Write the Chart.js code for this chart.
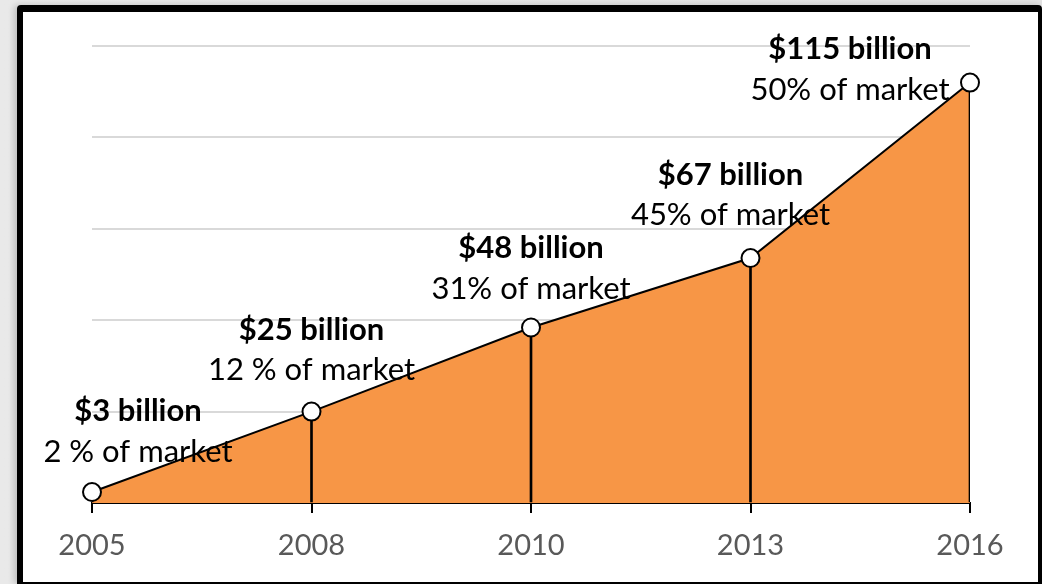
<!DOCTYPE html>
<html>
<head>
<meta charset="utf-8">
<script src="https://cdn.jsdelivr.net/npm/chart.js@4"></script>
<style>
  html, body { margin: 0; padding: 0; }
  body { width: 1042px; height: 584px; position: relative; overflow: hidden;
         background: linear-gradient(90deg, #e9e9e9 0%, #e2e2e2 100%); }
  #panel { position: absolute; left: 17px; top: 5px; width: 1025px; height: 579px;
           box-sizing: border-box; background: #fff;
           border-style: solid; border-color: #000; border-width: 7px 4px 2px 6px;
           border-radius: 4px 4px 0 0;
           box-shadow: -3px 0 6px rgba(0,0,0,0.18); }
  #chart { position: absolute; left: 0; top: 0; }
</style>
</head>
<body>
<div id="panel"></div>
<canvas id="chart" width="1042" height="584"></canvas>
<script>
// ---- data ----
const categories = ['2005', '2008', '2010', '2013', '2016'];
const revenueBillions = [3, 25, 48, 67, 115];
const revenueLabels = ['$3 billion', '$25 billion', '$48 billion', '$67 billion', '$115 billion'];
const shareLabels = ['2 % of market', '12 % of market', '31% of market', '45% of market', '50% of market'];
const yTicks = { min: 0, max: 125, step: 25 };

// ---- label placement relative to each point (pixels) ----
const labelDx = [46, 0, 0, -20, -120];
const labelDyBold = [-71, -72, -70, -73, -24];
const labelDyReg = [-30, -32, -29, -33, 17];

const FONT = 'Lato, "Noto Sans", sans-serif';
const LABEL_SIZE = 31;

const pointLabels = {
  id: 'pointLabels',
  afterDatasetsDraw(chart) {
    const meta = chart.getDatasetMeta(1);
    const ctx = chart.ctx;
    ctx.save();
    ctx.fillStyle = '#000';
    ctx.textAlign = 'center';
    ctx.textBaseline = 'alphabetic';
    meta.data.forEach((pt, i) => {
      const x = pt.x + labelDx[i];
      ctx.font = 'bold ' + LABEL_SIZE + 'px ' + FONT;
      ctx.fillText(revenueLabels[i], x, pt.y + labelDyBold[i]);
      ctx.font = LABEL_SIZE + 'px ' + FONT;
      ctx.fillText(shareLabels[i], x, pt.y + labelDyReg[i]);
    });
    ctx.restore();
  }
};

new Chart(document.getElementById('chart'), {
  data: {
    labels: categories,
    datasets: [
      {
        type: 'bar',
        data: revenueBillions,
        backgroundColor: '#000',
        barThickness: 2,
        order: 2
      },
      {
        type: 'line',
        data: revenueBillions,
        borderColor: '#000',
        borderWidth: 2,
        backgroundColor: '#F79646',
        fill: 'origin',
        tension: 0,
        pointRadius: 9,
        pointBorderWidth: 2,
        pointBackgroundColor: '#fff',
        pointBorderColor: '#000',
        order: 1
      }
    ]
  },
  options: {
    responsive: false,
    animation: false,
    events: [],
    layout: { padding: { left: 92, right: 72, top: 46, bottom: 21 } },
    plugins: {
      legend: { display: false },
      tooltip: { enabled: false },
      filler: { drawTime: 'beforeDatasetsDraw' }
    },
    scales: {
      x: {
        type: 'category',
        offset: false,
        grid: { drawOnChartArea: false, color: '#000', lineWidth: 2, tickLength: 10, offset: false },
        border: { color: '#000', width: 2 },
        ticks: { color: '#595959', font: { family: FONT, size: 29 }, padding: 15, maxRotation: 0, autoSkip: false },
        afterFit(scale) { scale.height = 60; }
      },
      y: {
        min: yTicks.min,
        max: yTicks.max,
        ticks: { display: false, stepSize: yTicks.step },
        grid: { color: '#d9d9d9', lineWidth: 2, drawTicks: false },
        border: { display: false },
        afterFit(scale) { scale.width = 0; }
      }
    }
  },
  plugins: [pointLabels]
});
</script>
</body>
</html>
